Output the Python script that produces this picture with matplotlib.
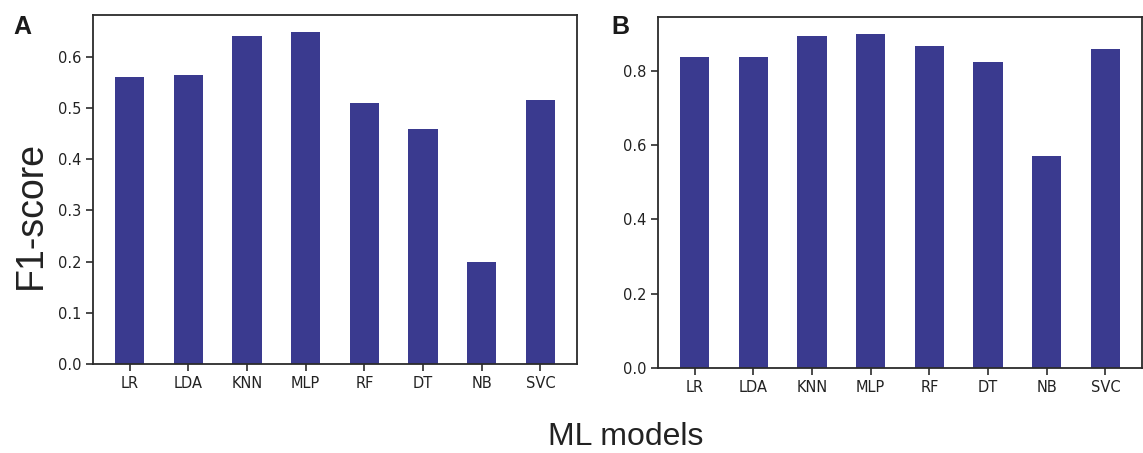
import numpy as np
import matplotlib.pyplot as plt

models = ['LR', 'LDA', 'KNN', 'MLP', 'RF', 'DT', 'NB', 'SVC']
f1_a = [0.561, 0.565, 0.641, 0.649, 0.509, 0.458, 0.199, 0.515]
f1_b = [0.838, 0.838, 0.895, 0.900, 0.868, 0.824, 0.570, 0.859]

bar_color = '#3a3a8f'
spine_color = '#2b2b2b'

fig = plt.figure(figsize=(11.43, 4.53), dpi=100)
W, H = 1143, 453

# axes boxes in pixels: left, top, right, bottom
boxes = [(93, 15, 577, 364), (658, 17, 1142, 368)]
letters = ['A', 'B']
letter_pos = [(13, 27), (611, 27)]

for box, vals, lab, lp in zip(boxes, [f1_a, f1_b], letters, letter_pos):
    l, t, r, b = box
    ax = fig.add_axes([l / W, 1 - b / H, (r - l) / W, (b - t) / H])
    x = np.arange(len(models))
    ax.bar(x, vals, width=0.5, color=bar_color)
    ax.set_xticks(x)
    ax.set_xticklabels(models)
    ax.tick_params(axis='both', labelsize=10.5, length=5, width=1.2,
                   color=spine_color, labelcolor='#222222', direction='out')
    for s in ax.spines.values():
        s.set_color(spine_color)
        s.set_linewidth(1.3)
    fig.text(lp[0] / W, 1 - lp[1] / H, lab, fontsize=18, fontweight='bold',
             family='Liberation Sans', ha='left', va='center', color='#1a1a1a')

axb = fig.axes[1]
axb.set_yticks([0.0, 0.2, 0.4, 0.6, 0.8])

fig.text(31 / W, 1 - 215 / H, 'F1-score', rotation=90, fontsize=27,
         family='Liberation Sans', ha='center', va='center', color='#222222')
fig.text(626 / W, 1 - 437 / H, 'ML models', fontsize=23,
         family='Liberation Sans', ha='center', va='center', color='#222222')

fig.savefig('out.png', dpi=100)
